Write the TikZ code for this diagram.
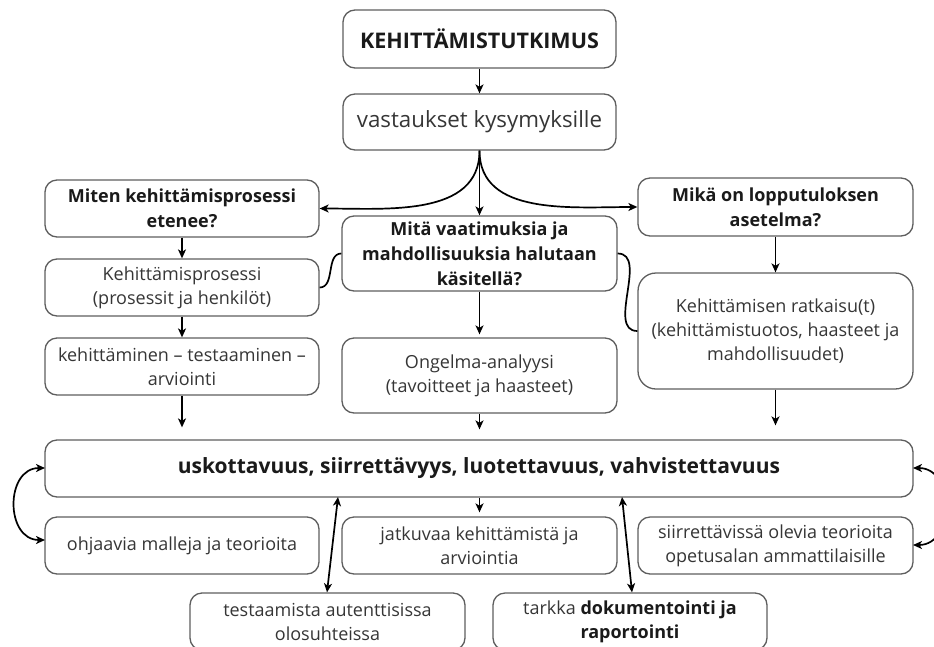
\documentclass[tikz,border=0pt]{standalone}
\usepackage{fontspec}
\setmainfont{Open Sans}
\usetikzlibrary{arrows.meta}
\definecolor{boxline}{HTML}{5E5E5E}
\definecolor{bodytext}{HTML}{363636}
\definecolor{headtext}{HTML}{1A1A1A}
\begin{document}
\begin{tikzpicture}[x=1pt,y=-1pt,
  box/.style={draw=boxline, line width=1.3pt, rounded corners=12pt, align=center,
    inner sep=0pt, text=bodytext, font=\fontsize{18}{24}\selectfont},
  headbox/.style={box, text=headtext, font=\fontsize{18}{25}\selectfont\bfseries},
  tip/.style={Stealth[length=9pt,width=8pt,inset=2.5pt]},
  conn/.style={line width=1.7pt, -{Stealth[length=9pt,width=8pt,inset=2.5pt]}},
  dconn/.style={line width=1.7pt, {Stealth[length=9pt,width=8pt,inset=2.5pt]}-{Stealth[length=9pt,width=8pt,inset=2.5pt]}},
  link/.style={line width=1.7pt}]
\useasboundingbox (0,0) rectangle (934,646);
\fill[white] (0,0) rectangle (934,646);
\clip (0,0) rectangle (934,646);

% top of the chart
\node[headbox, minimum width=273pt, minimum height=58pt, font=\fontsize{21.5}{26}\selectfont\bfseries] (top) at (479.5,39) {KEHITTÄMISTUTKIMUS};
\node[box, minimum width=273pt, minimum height=56pt, font=\fontsize{22.3}{28}\selectfont] (vast) at (479.5,122) {vastaukset kysymyksille};

% three questions
\node[headbox, minimum width=274pt, minimum height=57pt] (miten) at (182,208.5) {Miten kehittämisprosessi\\etenee?};
\node[headbox, minimum width=275pt, minimum height=75pt] (mita) at (479.5,253.5) {Mitä vaatimuksia ja\\mahdollisuuksia halutaan\\käsitellä?};
\node[headbox, minimum width=275pt, minimum height=58pt] (mika) at (775.5,207) {Mikä on lopputuloksen\\asetelma?};

% answers
\node[box, minimum width=274pt, minimum height=57pt] (kproc) at (182,287.5) {Kehittämisprosessi\\(prosessit ja henkilöt)};
\node[box, minimum width=274pt, minimum height=57pt] (kehit) at (182,366.5) {kehittäminen – testaaminen –\\arviointi};
\node[box, minimum width=275pt, minimum height=75pt] (ong) at (479.5,375.5) {Ongelma-analyysi\\(tavoitteet ja haasteet)};
\node[box, rounded corners=18pt, minimum width=275pt, minimum height=116pt] (ratk) at (775.5,331) {Kehittämisen ratkaisu(t)\\(kehittämistuotos, haasteet ja\\mahdollisuudet)};

% criteria
\node[headbox, minimum width=868pt, minimum height=57pt, font=\fontsize{21}{26}\selectfont\bfseries] (big) at (479,468.5) {uskottavuus, siirrettävyys, luotettavuus, vahvistettavuus};

\node[box, minimum width=274pt, minimum height=57pt] (ohj) at (182,545.5) {ohjaavia malleja ja teorioita};
\node[box, minimum width=275pt, minimum height=57pt] (jatk) at (479.5,545.5) {jatkuvaa kehittämistä ja\\arviointia};
\node[box, minimum width=275pt, minimum height=57pt] (siir) at (775.5,545.5) {siirrettävissä olevia teorioita\\opetusalan ammattilaisille};
\node[box, minimum width=275pt, minimum height=57pt] (test) at (327.5,621.5) {testaamista autenttisissa\\olosuhteissa};
\node[box, minimum width=274pt, minimum height=57pt] (tark) at (630,621.5) {tarkka \textbf{\color{headtext}dokumentointi ja}\\\textbf{\color{headtext}raportointi}};

% connectors
\draw[conn] (top) -- (vast);
\draw[conn] (vast.south) to[out=-90,in=0] (miten.east);
\draw[conn] (vast.south) -- (mita.north);
\draw[conn] (vast.south) to[out=-90,in=180] (mika.west);

\draw[conn] (miten) -- (kproc);
\draw[conn] (kproc) -- (kehit);
\draw[conn, shorten >=12pt] (kehit) -- (kehit.south |- big.north);
\draw[conn, shorten >=3pt] (mita) -- (ong);
\draw[conn, shorten >=10pt] (ong) -- (ong.south |- big.north);
\draw[conn] (mika) -- (ratk);
\draw[conn, shorten >=14pt] (ratk) -- (ratk.south |- big.north);

\draw[link] (kproc.east) to[out=0,in=180] (mita.west);
\draw[link] (mita.east) to[out=0,in=180] (ratk.west);

\draw[conn, shorten >=4pt] (big.south -| jatk.north) -- (jatk.north);

\coordinate (bl) at (338,497);
\coordinate (br) at (622,497);
\draw[dconn] (bl) -- (test.north -| 327,0);
\draw[dconn] (br) -- (tark.north -| 632,0);

\coordinate (bw) at (45,468);
\coordinate (ow) at (45,540);
\draw[dconn] (bw) .. controls (5,468) and (5,540) .. (ow);
\coordinate (be) at (913,468);
\coordinate (se) at (913,545);
\draw[dconn] (be) .. controls (955,468) and (955,545) .. (se);
\end{tikzpicture}
\end{document}
